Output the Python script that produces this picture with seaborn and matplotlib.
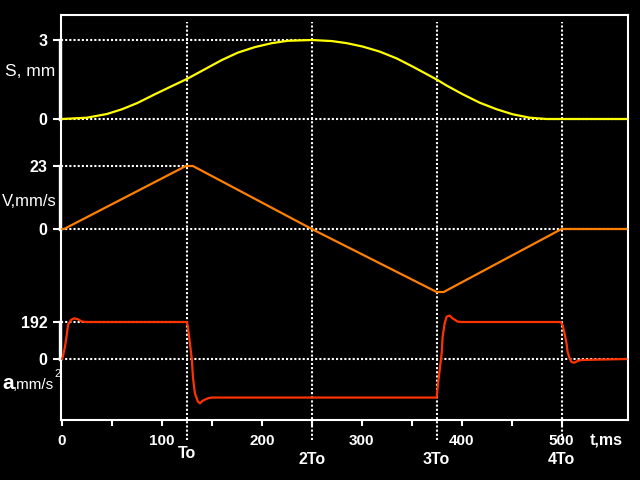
import matplotlib
matplotlib.use('Agg')
import matplotlib.pyplot as plt
import matplotlib.transforms as mtransforms
import seaborn as sns

# displacement S, mm
s_t = [0, 25, 45, 60, 75, 93, 110, 125, 143, 160, 176, 193, 210, 226, 250,
       270, 285, 301, 318, 335, 351, 375, 385, 401, 418, 435, 451, 468, 485, 500, 565]
s_mm = [0, 0.05, 0.19, 0.37, 0.6, 0.94, 1.25, 1.52, 1.89, 2.24, 2.52, 2.73, 2.88, 2.97, 3.0,
        2.96, 2.88, 2.75, 2.56, 2.3, 1.99, 1.5, 1.27, 0.94, 0.62, 0.37, 0.18, 0.05, 0.0, 0, 0]

# velocity V, mm/s
v_t = [0, 2, 124, 131, 250, 375, 382, 500, 565]
v_mms = [0, 0, 23, 23, 0, -23, -23, 0, 0]

# acceleration a, mm/s^2
a_t = [0, 1, 3, 5, 6, 9, 12, 16, 20, 25,
       125, 126, 128, 130, 131, 133, 136, 138, 141, 146, 150,
       375, 376, 378, 380, 381, 383, 385, 388, 391, 396, 400,
       499, 501, 503, 505, 506, 508, 510, 513, 516, 520, 565]
a_mms2 = [0, 15, 64, 133, 177, 203, 211, 206, 194, 192,
          192, 168, 83, -5, -92, -178, -221, -230, -216, -204, -200,
          -200, -144, -57, 30, 116, 185, 220, 225, 211, 194, 192,
          192, 177, 133, 81, 38, 4, -16, -19, -10, -5, 0]

period_t = [125, 250, 375, 500]
period_labels = ['To', '2To', '3To', '4To']
x_major = [0, 100, 200, 300, 400, 500]
x_minor = [50, 150, 250, 350, 450]

sns.set_style('ticks', rc={'axes.facecolor': 'black', 'figure.facecolor': 'black',
                           'axes.edgecolor': 'white', 'text.color': 'white',
                           'xtick.color': 'white', 'ytick.color': 'white'})
plt.rcParams['font.family'] = ['Liberation Sans', 'DejaVu Sans']

W, H = 640, 480
L, R, T, B = 61, 628, 15, 420   # frame in pixels
rect = [L / W, 1 - B / H, (R - L) / W, (B - T) / H]
XLIM = (-1, 566.5)

fig = plt.figure(figsize=(6.4, 4.8), dpi=100, facecolor='black')
ax = fig.add_axes(rect)
ax.set_facecolor('black')
ax.set_xlim(*XLIM)
ax.set_ylim(0, 1)
ax.set_yticks([])
for sp in ax.spines.values():
    sp.set_color('white')
    sp.set_linewidth(1.5)
ax.set_xticks(x_major)
ax.set_xticks(x_minor, minor=True)
ax.set_xticklabels([str(v) for v in x_major], fontweight='bold')
ax.tick_params(axis='x', which='both', direction='out', length=4, width=1.5,
               colors='white', labelsize=11, pad=6)

dot = (0, (1, 1))
# vertical period lines
for t in period_t:
    ax.axvline(t, ymin=(B - 440) / (B - T), ymax=(B - 22) / (B - T), color='white',
               lw=1.5, ls=dot, clip_on=False, zorder=1)

trans = mtransforms.blended_transform_factory(ax.transData, ax.transAxes)
for t, lab, ypx in zip(period_t, period_labels, [453, 459, 459, 459]):
    ax.text(t, (B - ypx) / (B - T), lab, transform=trans, ha='center', va='center',
            fontsize=11.5, fontweight='bold', color='white')
ax.text(528, (B - 440) / (B - T), 't,ms', transform=trans, ha='left', va='center',
        fontsize=11.5, fontweight='bold', color='white')


def level_axes(lo, hi, lo_px, hi_px, top_line_end):
    sub = fig.add_axes(rect)
    sub.patch.set_visible(False)
    sub.set_xlim(*XLIM)
    k = (lo_px - hi_px) / (hi - lo)
    sub.set_ylim(lo - (B - lo_px) / k, hi + (hi_px - T) / k)
    for name in ['top', 'right', 'bottom']:
        sub.spines[name].set_visible(False)
    sub.spines['left'].set_bounds(lo, hi)
    sub.spines['left'].set_linewidth(2.4)
    sub.spines['left'].set_color('white')
    sub.spines['left'].set_position(('outward', 0.7))
    sub.set_xticks([])
    sub.set_yticks([lo, hi])
    sub.set_yticklabels([str(lo), str(hi)], fontweight='bold')
    sub.tick_params(axis='y', length=5, width=1.5, colors='white', labelsize=11.5, pad=4)
    sub.hlines(lo, XLIM[0], XLIM[1], color='white', lw=1.5, ls=dot, zorder=1)
    sub.hlines(hi, XLIM[0], top_line_end, color='white', lw=1.5, ls=dot, zorder=1)
    return sub


ax_s = level_axes(0, 3, 119, 40, 250)
ax_v = level_axes(0, 23, 229, 166, 125)
ax_a = level_axes(0, 192, 359, 322, 125)

sns.lineplot(x=s_t, y=s_mm, ax=ax_s, color='#ffff00', lw=1.6, zorder=3)
sns.lineplot(x=v_t, y=v_mms, ax=ax_v, color='#ff8000', lw=1.6, zorder=3)
sns.lineplot(x=a_t, y=a_mms2, ax=ax_a, color='#ff3300', lw=1.6, zorder=3)
for sub in (ax_s, ax_v, ax_a):
    sub.set_xlabel('')
    sub.set_ylabel('')

fig.text(5 / W, 1 - 76.5 / H, 'S, mm', ha='left', va='baseline', fontsize=12.5, color='white')
fig.text(1.5 / W, 1 - 205.5 / H, 'V,mm/s', ha='left', va='baseline', fontsize=12, color='white')
fig.text(2 / W, 1 - 389 / H, 'a', ha='left', va='baseline', fontsize=15, fontweight='bold',
         color='white')
fig.text(13 / W, 1 - 389 / H, ',mm/s', ha='left', va='baseline', fontsize=11, color='white')
fig.text(54.5 / W, 1 - 377 / H, '2', ha='left', va='baseline', fontsize=8, color='white')

fig.savefig('out.png', dpi=100, facecolor='black')
